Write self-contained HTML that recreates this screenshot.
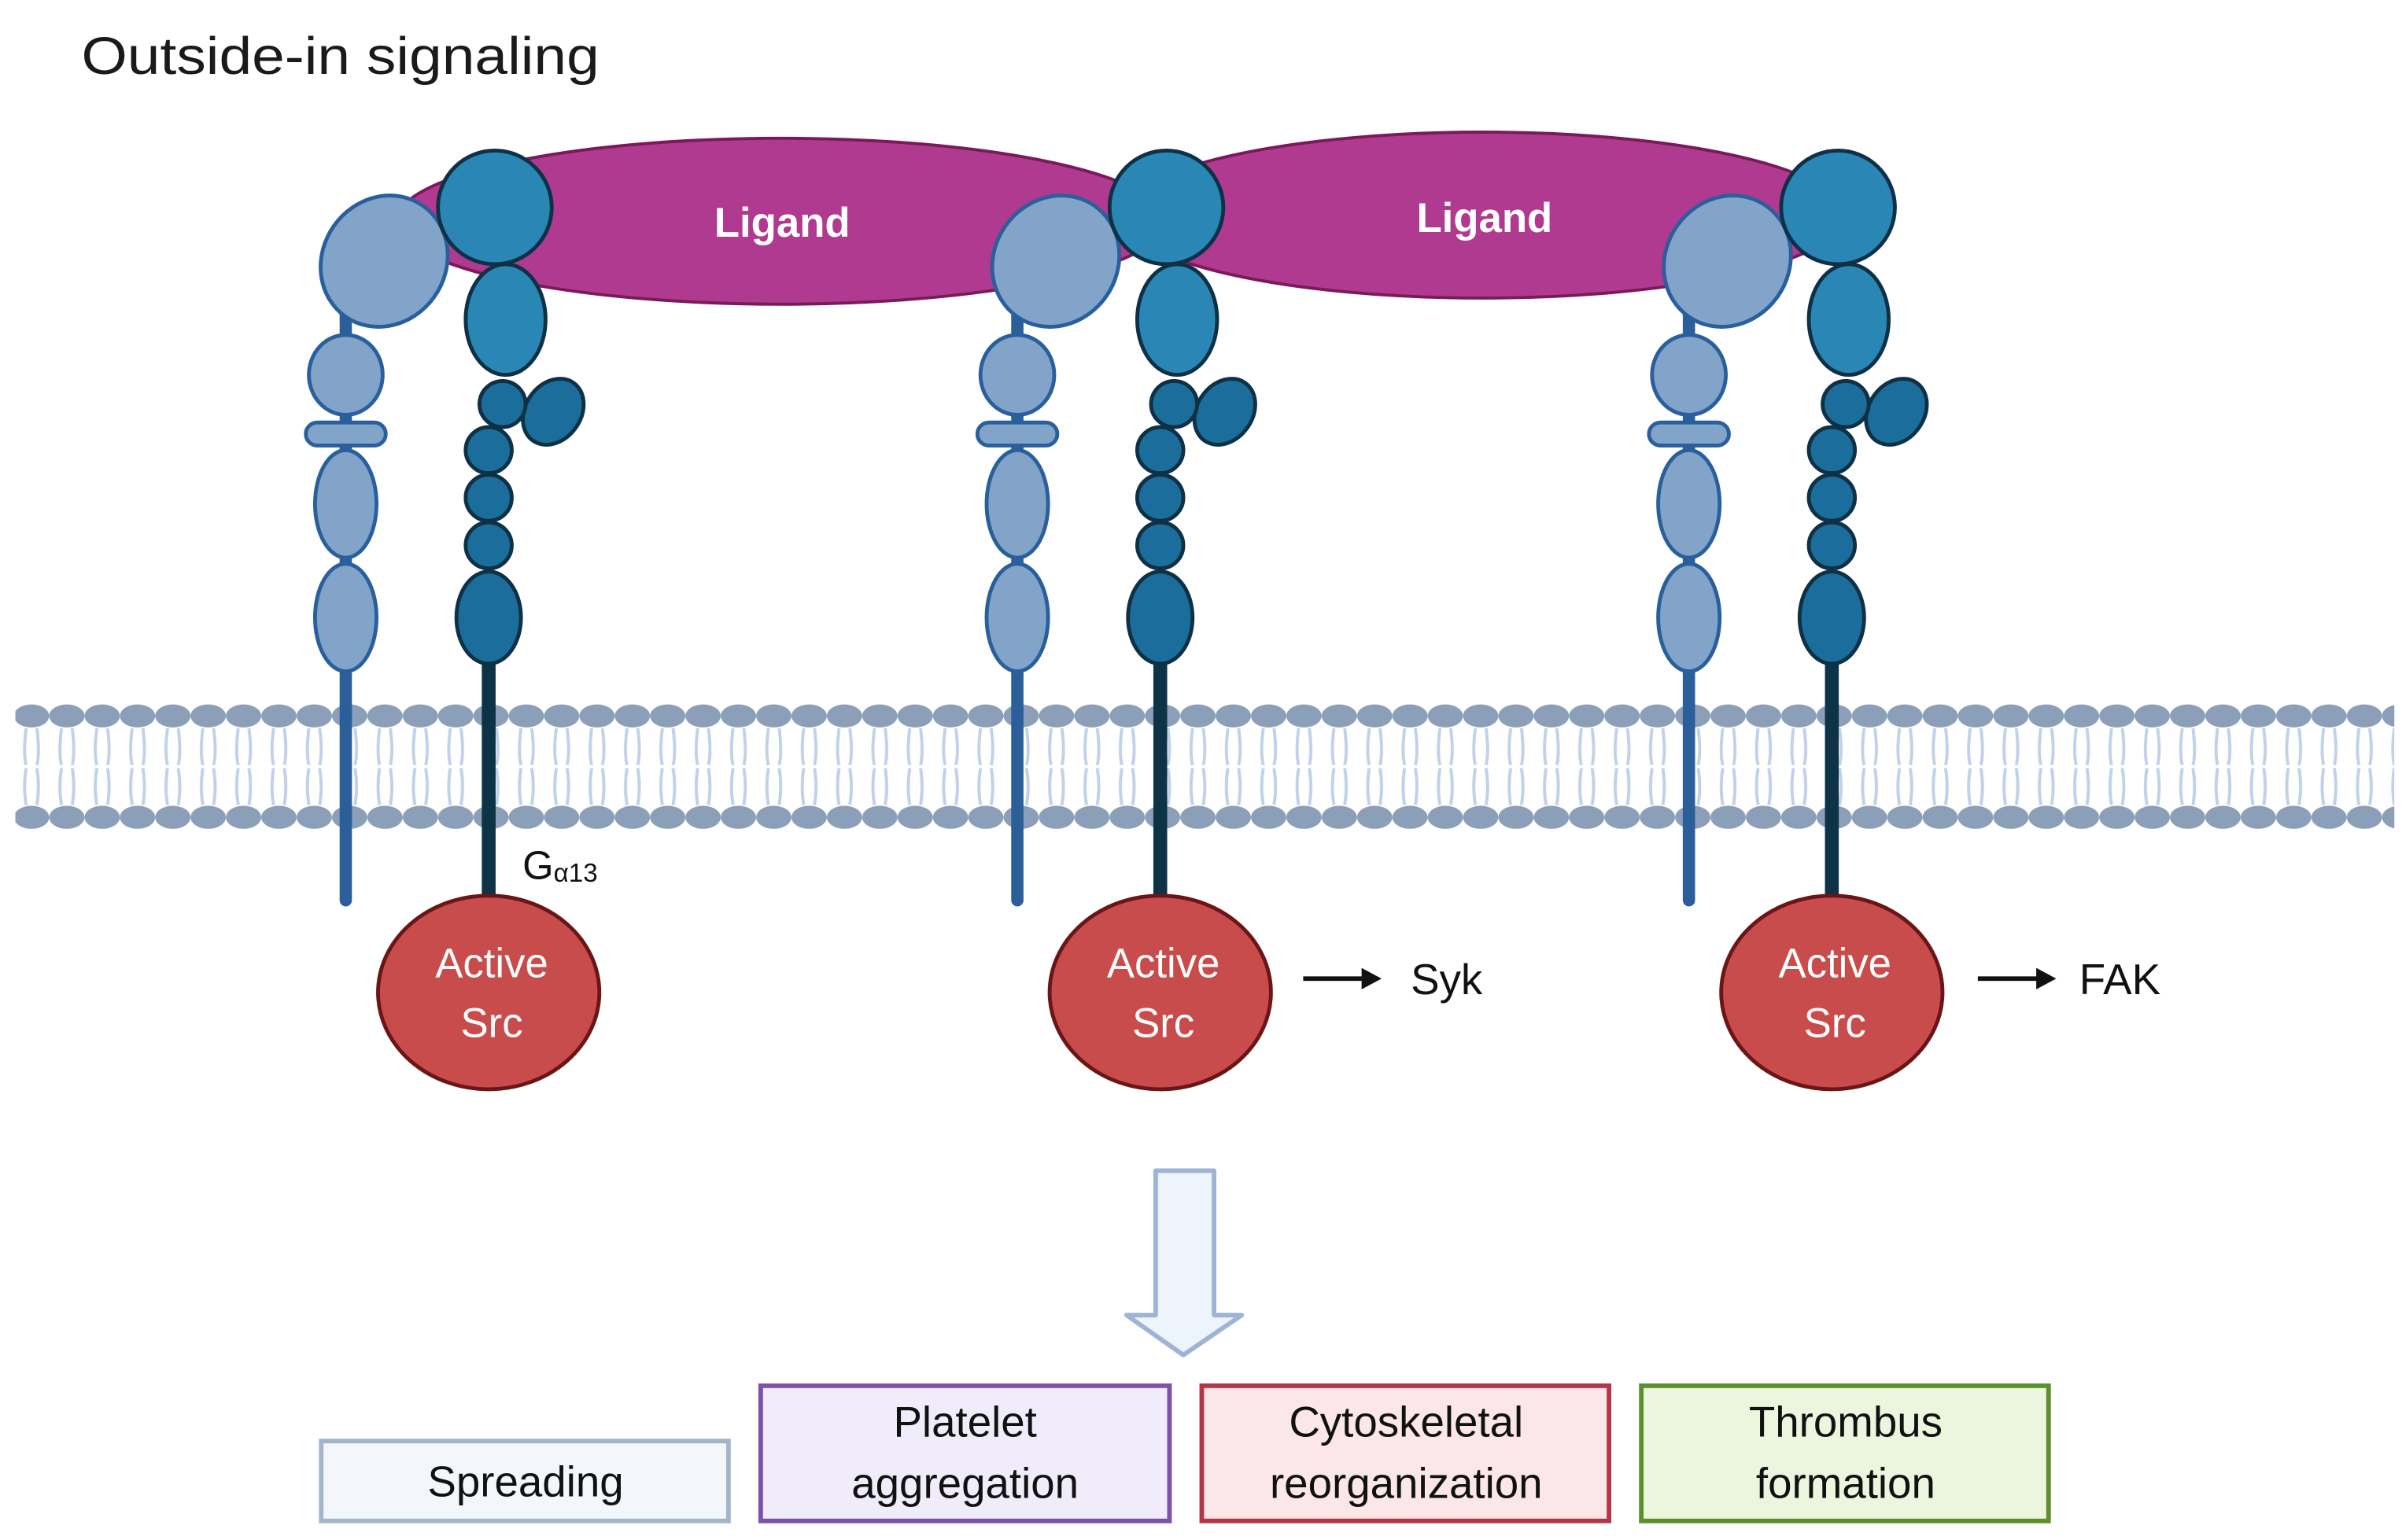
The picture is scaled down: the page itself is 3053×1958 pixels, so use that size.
<!DOCTYPE html>
<html><head><meta charset="utf-8"><style>
html,body{margin:0;padding:0;background:#fff}
svg{display:block}
text{font-family:"Liberation Sans",sans-serif}
</style></head><body>
<svg width="3053" height="1958" viewBox="0 0 1563 1002.4" xmlns="http://www.w3.org/2000/svg">
<defs>
<pattern id="heads" x="9" y="0" width="23" height="1002.4" patternUnits="userSpaceOnUse">
  <path d="M8 474 Q6 490 8 498 M15 474 Q17 490 15 498 M8 500 Q6 512 8 524 M15 500 Q17 512 15 524" stroke="#bfd2ea" stroke-width="2" fill="none"/>
  <ellipse cx="11.5" cy="466" rx="11.5" ry="7.5" fill="#8c9fb8"/>
  <ellipse cx="11.5" cy="532" rx="11.5" ry="7.5" fill="#8c9fb8"/>
</pattern>
<g id="integ">
  <line x1="225" y1="200" x2="225" y2="586" stroke="#2a5f9a" stroke-width="8" stroke-linecap="round"/>
  <ellipse cx="250" cy="170" rx="40" ry="44" transform="rotate(35 250 170)" fill="#82a4c9" stroke="#2a5f9e" stroke-width="2.5"/>
  <ellipse cx="225" cy="244" rx="24" ry="26" fill="#82a4c9" stroke="#2a5f9e" stroke-width="2.5"/>
  <rect x="199" y="275" width="52" height="15" rx="7.5" fill="#82a4c9" stroke="#2a5f9e" stroke-width="2.5"/>
  <ellipse cx="225" cy="328" rx="20" ry="35" fill="#82a4c9" stroke="#2a5f9e" stroke-width="2.5"/>
  <ellipse cx="225" cy="402" rx="20" ry="35" fill="#82a4c9" stroke="#2a5f9e" stroke-width="2.5"/>
  <line x1="318" y1="420" x2="318" y2="585" stroke="#0d3347" stroke-width="9"/>
  <ellipse cx="360" cy="268" rx="18" ry="23" transform="rotate(35 360 268)" fill="#1b6e9c" stroke="#0e3146" stroke-width="2.5"/>
  <ellipse cx="318" cy="402" rx="21" ry="30" fill="#1b6e9c" stroke="#0e3146" stroke-width="2.5"/>
  <circle cx="318" cy="355" r="15" fill="#1b6e9c" stroke="#0e3146" stroke-width="2.5"/>
  <circle cx="318" cy="324" r="15" fill="#1b6e9c" stroke="#0e3146" stroke-width="2.5"/>
  <circle cx="318" cy="293" r="15" fill="#1b6e9c" stroke="#0e3146" stroke-width="2.5"/>
  <circle cx="327" cy="263" r="15" fill="#1b6e9c" stroke="#0e3146" stroke-width="2.5"/>
  <ellipse cx="329" cy="208" rx="26" ry="36" fill="#2a87b5" stroke="#0e3146" stroke-width="2.5"/>
  <circle cx="322" cy="135" r="37" fill="#2a87b5" stroke="#0e3146" stroke-width="2.5"/>
  <ellipse cx="318" cy="646" rx="72" ry="63" fill="#c94c4c" stroke="#6b1616" stroke-width="2.5"/>
  <text x="320" y="636" font-size="27" fill="#fff" text-anchor="middle">Active</text>
  <text x="320" y="675" font-size="27" fill="#fff" text-anchor="middle">Src</text>
</g>
</defs>
<rect width="1563" height="1003" fill="#fff"/>
<text x="53" y="48" font-size="34" fill="#1a1a1a" textLength="337" lengthAdjust="spacingAndGlyphs">Outside-in signaling</text>
<rect x="10" y="450" width="1548" height="95" fill="url(#heads)"/>
<ellipse cx="508" cy="144" rx="250" ry="54" fill="#b03a8f" stroke="#7a1a5a" stroke-width="2"/>
<ellipse cx="965" cy="140" rx="235" ry="54" fill="#b03a8f" stroke="#7a1a5a" stroke-width="2"/>
<text x="509" y="154" font-size="27" font-weight="bold" fill="#fff" text-anchor="middle">Ligand</text>
<text x="966" y="151" font-size="27" font-weight="bold" fill="#fff" text-anchor="middle">Ligand</text>
<use href="#integ"/>
<use href="#integ" x="437"/>
<use href="#integ" x="874"/>
<text x="340" y="572" font-size="26" fill="#111">G<tspan font-size="17" dy="2">α13</tspan></text>
<line x1="848" y1="637" x2="888" y2="637" stroke="#111" stroke-width="3"/>
<polygon points="886,630 899,637 886,644" fill="#111"/>
<text x="918" y="647" font-size="28" fill="#111">Syk</text>
<line x1="1287" y1="637" x2="1327" y2="637" stroke="#111" stroke-width="3"/>
<polygon points="1325,630 1338,637 1325,644" fill="#111"/>
<text x="1353" y="647" font-size="28" fill="#111">FAK</text>
<polygon points="752,762 790,762 790,856 808,856 770,882 733,856 752,856" fill="#eef4fb" stroke="#9db4d6" stroke-width="3" stroke-linejoin="round"/>
<rect x="209" y="938" width="265" height="52" fill="#f3f7fb" stroke="#a3b5ca" stroke-width="3"/>
<rect x="495" y="902" width="266" height="88" fill="#f0ecf9" stroke="#7c52a8" stroke-width="3"/>
<rect x="782" y="902" width="265" height="88" fill="#fbe6ea" stroke="#b33548" stroke-width="3"/>
<rect x="1068" y="902" width="265" height="88" fill="#ecf5de" stroke="#5e8f2e" stroke-width="3"/>
<g font-size="28" fill="#111" text-anchor="middle">
<text x="342" y="974">Spreading</text>
<text x="628" y="935">Platelet</text><text x="628" y="975">aggregation</text>
<text x="915" y="935">Cytoskeletal</text><text x="915" y="975">reorganization</text>
<text x="1201" y="935">Thrombus</text><text x="1201" y="975">formation</text>
</g>
</svg>
</body></html>
